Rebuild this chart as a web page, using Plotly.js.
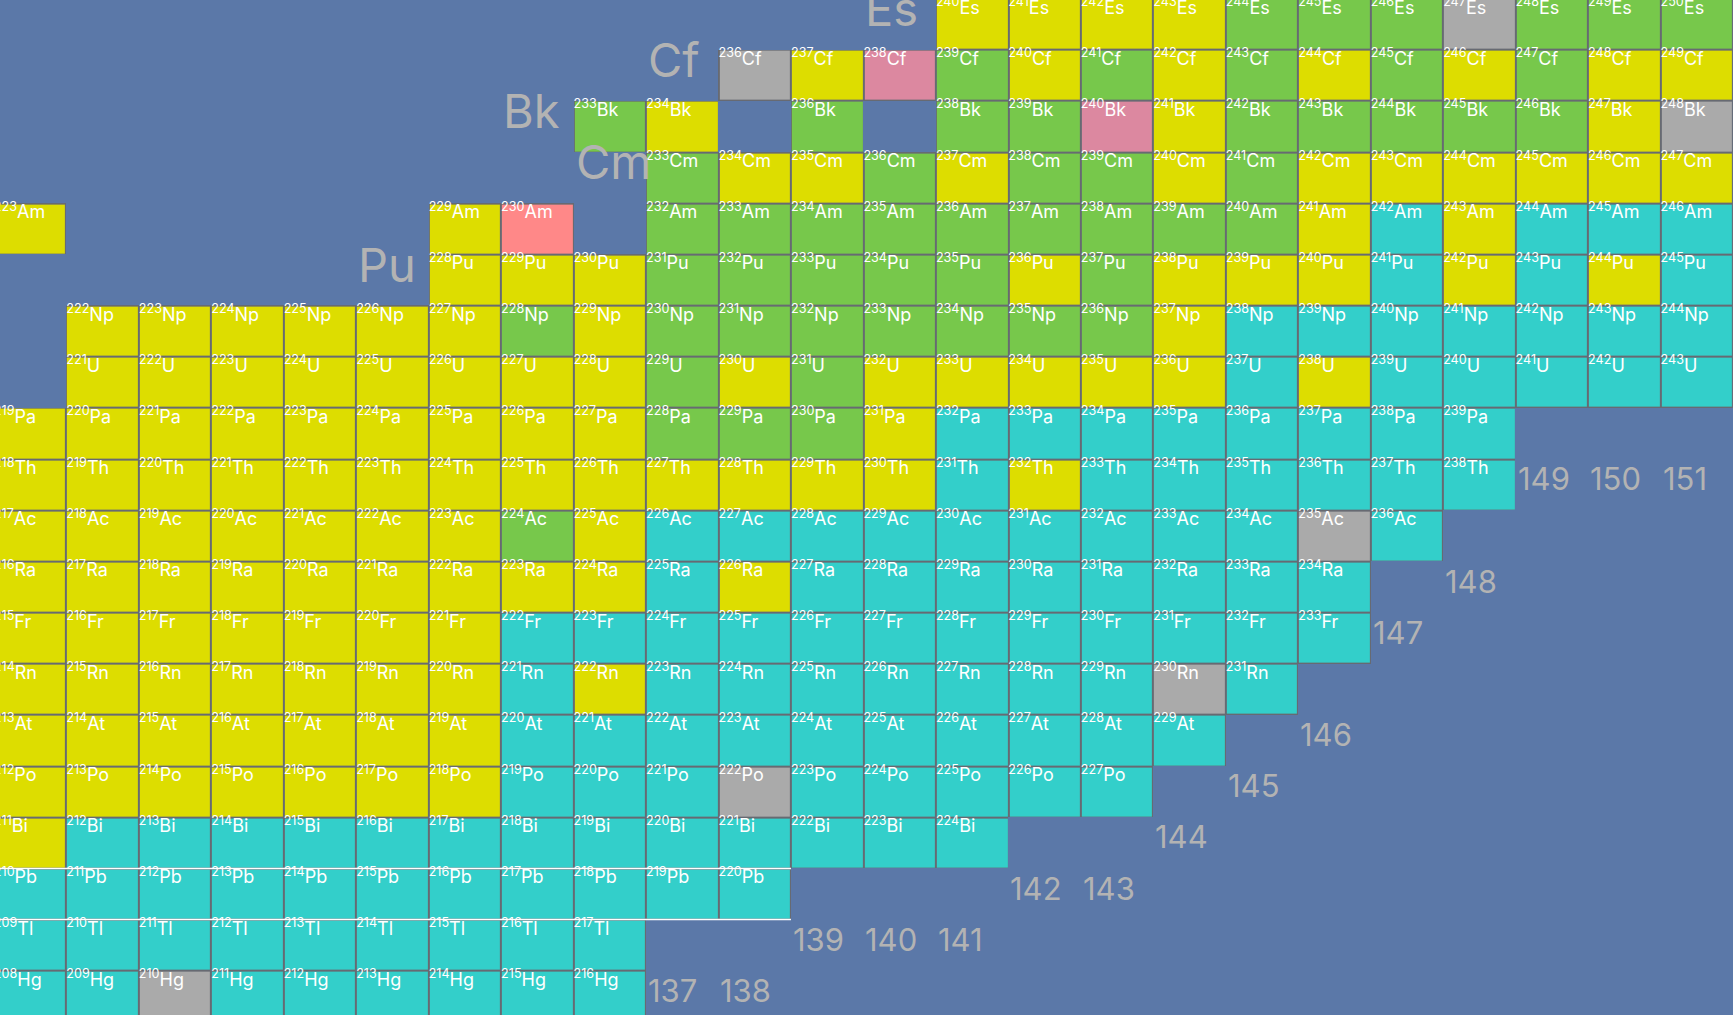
<!DOCTYPE html>
<html><head><meta charset="utf-8">
<script src="https://cdn.plot.ly/plotly-3.0.1.min.js"></script>
<style>html,body{margin:0;padding:0;background:#5b78a8;overflow:hidden}</style>
</head><body><div id="chart" style="width:1733px;height:1015px"></div>
<script>
// ---- data ----
const protonNumbers = [80,81,82,83,84,85,86,87,88,89,90,91,92,93,94,95,96,97,98,99];
const symbols = ['Hg','Tl','Pb','Bi','Po','At','Rn','Fr','Ra','Ac','Th','Pa','U','Np','Pu','Am','Cm','Bk','Cf','Es'];
const firstNeutron = [128,128,128,128,128,128,128,128,128,128,128,128,129,129,134,128,137,136,138,141];
// one letter per neutron number, starting at firstNeutron; '-' = no nuclide
const decayModes = [
  'BBSBBBBBB',
  'BBBBBBBBB',
  'BBBBBBBBBBB',
  'ABBBBBBBBBBBBB',
  'AAAAAAABBBSBBBBB',
  'AAAAAAABBBBBBBBBB',
  'AAAAAAABABBBBBBBSB',
  'AAAAAAABBBBBBBBBBBB',
  'AAAAAAAAABABBBBBBBB',
  'AAAAAAAEABBBBBBBBBSB',
  'AAAAAAAAAAAAABABBBBBB',
  'AAAAAAAAAEEEABBBBBBBB',
  'AAAAAAAAEAEAAAAABABBBBB',
  'AAAAAAEAEEEEEEEABBBBBBB',
  'AAAEEEEEAEAAABABAB',
  'A-----AP-EEEEEEEEEABABBB',
  'EAAEAEEAEAAAAAA',
  'EA-E-EEFAEEEEEAS',
  'SAFEAEAEAEAEAA',
  'AAAAEEESEEE'
];
const modeCodes  = ['A','B','E','S','F','P'];
const modeColors = ['#dddd00','#33cfca','#77c84b','#aaaaaa','#dc88a0','#ff8888'];
const rowLabelZ = [94,96,97,98,99];
const neutronLabels = [137,138,139,140,141,142,143,144,145,146,147,148,149,150,151];
const magicZ = [82];
const xRange = [127.585, 151.5];
const yRange = [79.636, 99.472];

// ---- build ----
const W = 1733, H = 1015;
const pxPerZ = H / (yRange[1] - yRange[0]);
const textDrop = 1.5 / pxPerZ;   // small downward nudge of the cell labels
const nMin = 128, nMax = 151;
const xs = []; for (let n = nMin; n <= nMax; n++) xs.push(n);
const zColor = [], zBorder = [];
const tx = [], ty = [], tt = [];
protonNumbers.forEach((Z, r) => {
  const rowC = xs.map(() => null), rowB = xs.map(() => null);
  const s = decayModes[r];
  for (let i = 0; i < s.length; i++) {
    const code = s[i];
    if (code === '-') continue;
    const N = firstNeutron[r] + i;
    const k = modeCodes.indexOf(code);
    rowC[N - nMin] = k + 0.5;
    rowB[N - nMin] = 1;
    tx.push(N - 0.5); ty.push(Z + 0.5 - textDrop);
    tt.push('<sup>' + (N + Z) + '</sup>' + symbols[r]);
  }
  zColor.push(rowC); zBorder.push(rowB);
});
const nc = modeColors.length;
const cscale = [];
modeColors.forEach((c, i) => { cscale.push([i / nc, c]); cscale.push([(i + 1) / nc, c]); });

const font = 'Inter, "Open Sans", sans-serif';
const annotations = [];
rowLabelZ.forEach(Z => {
  const r = protonNumbers.indexOf(Z);
  annotations.push({x: firstNeutron[r] - 1.5, y: Z, xref: 'x', yref: 'y', text: symbols[r],
    showarrow: false, xanchor: 'left', yanchor: 'middle', yshift: 16,
    font: {family: font, size: 47, color: '#b3b3b3'}});
});
neutronLabels.forEach(N => {
  let zmin = Infinity;
  protonNumbers.forEach((Z, r) => {
    const i = N - firstNeutron[r];
    if (i >= 0 && i < decayModes[r].length && decayModes[r][i] !== '-') zmin = Math.min(zmin, Z);
  });
  annotations.push({x: N - 0.5, y: zmin - 2, xref: 'x', yref: 'y', text: String(N),
    showarrow: false, xanchor: 'left', yanchor: 'middle', yshift: 6,
    font: {family: font, size: 31, color: '#b3b3b3'}});
});
const shapes = [];
magicZ.forEach(Z => {
  const r = protonNumbers.indexOf(Z);
  const x0 = firstNeutron[r] - 0.5 - 1, x1 = firstNeutron[r] + decayModes[r].length - 0.5;
  [Z - 0.5, Z + 0.5].forEach(y => shapes.push({type: 'line', xref: 'x', yref: 'y', x0: x0, x1: x1, y0: y, y1: y,
    line: {color: '#ffffff', width: 1.5}, layer: 'above'}));
});

const traces = [
  {type: 'heatmap', x: xs, y: protonNumbers, z: zBorder, colorscale: [[0,'#676a72'],[1,'#676a72']],
   showscale: false, hoverinfo: 'skip', zmin: 0, zmax: 2},
  {type: 'heatmap', x: xs, y: protonNumbers, z: zColor, colorscale: cscale, zmin: 0, zmax: nc,
   showscale: false, xgap: 2, ygap: 2, hoverinfo: 'skip'},
  {type: 'scatter', mode: 'text', x: tx, y: ty, text: tt, textposition: 'bottom right',
   textfont: {family: font, size: 18, color: '#ffffff'}, hoverinfo: 'skip', cliponaxis: true}
];
const layout = {
  width: W, height: H, margin: {l: 0, r: 0, t: 0, b: 0, pad: 0},
  paper_bgcolor: '#5b78a8', plot_bgcolor: '#5b78a8', showlegend: false,
  xaxis: {range: xRange, visible: false, fixedrange: true},
  yaxis: {range: yRange, visible: false, fixedrange: true},
  annotations: annotations, shapes: shapes
};
Plotly.newPlot('chart', traces, layout, {displayModeBar: false, staticPlot: true});
</script></body></html>
